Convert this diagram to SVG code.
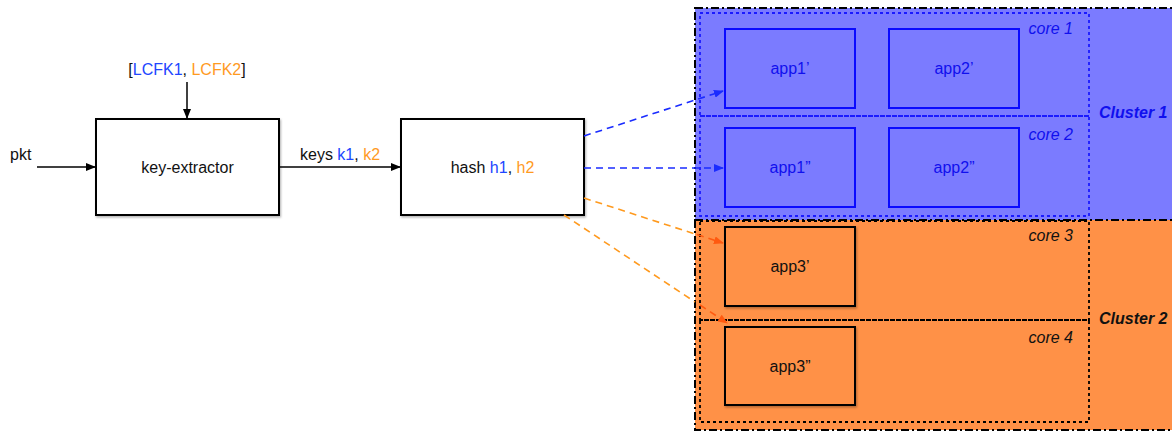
<svg xmlns="http://www.w3.org/2000/svg" width="1172" height="432" viewBox="0 0 1172 432">
<style>
text{font-family:"Liberation Sans",Arial,sans-serif;font-size:16px;}
.blk{fill:#111;}
.b{fill:#2146ff;}
.o{fill:#ff9a1f;}
.box{fill:#fff;stroke:#000;stroke-width:2;}
.edge{stroke:#000;stroke-width:1.5;fill:none;}
.bdash{stroke:#1a2cff;stroke-width:1.6;fill:none;stroke-dasharray:7 5;}
.odash{stroke:#ff9a1f;stroke-width:1.6;fill:none;stroke-dasharray:7 5;}
.odash2{stroke:#ff5a10;stroke-width:1.6;fill:none;stroke-dasharray:7 5;}
.cluster{stroke:#000;stroke-width:2;stroke-dasharray:8 3 2 3;}
.core1{fill:none;stroke:#1a1aff;stroke-width:1.8;stroke-dasharray:3 3;}
.core2{fill:none;stroke:#000;stroke-width:1.8;stroke-dasharray:3 3;}
.appb{fill:#7b7bff;stroke:#0a0aff;stroke-width:2;}
.appo{fill:#ff9147;stroke:#000;stroke-width:2;}
.corelbl{font-style:italic;text-anchor:end;}
.clbl{font-style:italic;font-weight:bold;}
.mid{text-anchor:middle;}
</style>
<defs>
<marker id="ak" markerWidth="10" markerHeight="8" refX="9" refY="4" orient="auto" markerUnits="userSpaceOnUse"><path d="M0,0 L10,4 L0,8 Z" fill="#000"/></marker>
<marker id="ab" markerWidth="10" markerHeight="8" refX="9" refY="4" orient="auto" markerUnits="userSpaceOnUse"><path d="M0,0 L10,4 L0,8 Z" fill="#1a2cff"/></marker>
<marker id="ao" markerWidth="10" markerHeight="8" refX="9" refY="4" orient="auto" markerUnits="userSpaceOnUse"><path d="M0,0 L10,4 L0,8 Z" fill="#ff5a10"/></marker>
<filter id="sh" x="-5%" y="-5%" width="115%" height="115%"><feDropShadow dx="1" dy="1.5" stdDeviation="1" flood-color="#000" flood-opacity="0.3"/></filter>
</defs>

<g id="cluster1">
<rect x="695" y="8" width="490" height="212" fill="#7b7bff" class="cluster"/>
<text x="1099" y="118" class="clbl" fill="#1010ee">Cluster 1</text>
</g>
<g id="cluster2">
<rect x="695" y="220" width="490" height="210" fill="#ff9147" class="cluster"/>
<text x="1099" y="324" class="clbl" fill="#111">Cluster 2</text>
</g>

<g id="core1">
<rect x="700" y="13" width="389" height="103" class="core1"/>
<text x="1073" y="34" class="corelbl" fill="#1010ee">core 1</text>
</g>
<g id="core2">
<rect x="700" y="116" width="389" height="100" class="core1"/>
<text x="1073" y="140" class="corelbl" fill="#1010ee">core 2</text>
</g>
<g id="core3">
<rect x="700" y="221" width="389" height="99" class="core2"/>
<text x="1073" y="241" class="corelbl" fill="#111">core 3</text>
</g>
<g id="core4">
<rect x="700" y="320" width="389" height="102" class="core2"/>
<text x="1073" y="343" class="corelbl" fill="#111">core 4</text>
</g>

<g id="app1p"><rect x="725" y="29" width="130" height="79" class="appb"/><text x="790" y="74" class="mid" fill="#1010ee">app1’</text></g>
<g id="app2p"><rect x="889" y="29" width="130" height="79" class="appb"/><text x="954" y="74" class="mid" fill="#1010ee">app2’</text></g>
<g id="app1pp"><rect x="725" y="128" width="130" height="79" class="appb"/><text x="790" y="173" class="mid" fill="#1010ee">app1”</text></g>
<g id="app2pp"><rect x="889" y="128" width="130" height="79" class="appb"/><text x="954" y="173" class="mid" fill="#1010ee">app2”</text></g>
<g id="app3p"><rect x="725" y="227" width="130" height="79" class="appo" filter="url(#sh)"/><text x="790" y="272" class="mid blk">app3’</text></g>
<g id="app3pp"><rect x="725" y="327" width="130" height="78" class="appo" filter="url(#sh)"/><text x="790" y="372" class="mid blk">app3”</text></g>

<g id="key-extractor">
<rect x="96" y="119" width="183" height="96" class="box" filter="url(#sh)"/>
<text x="187.5" y="173" class="mid blk">key-extractor</text>
</g>
<g id="hash">
<rect x="401" y="119" width="183" height="96" class="box" filter="url(#sh)"/>
<text x="492.5" y="173" class="mid"><tspan class="blk">hash </tspan><tspan class="b">h1</tspan><tspan class="blk">, </tspan><tspan class="o">h2</tspan></text>
</g>
<g id="pkt"><text x="10" y="160" class="blk">pkt</text></g>
<g id="lcfk"><text x="187" y="75" class="mid"><tspan class="blk">[</tspan><tspan class="b">LCFK1</tspan><tspan class="blk">, </tspan><tspan class="o">LCFK2</tspan><tspan class="blk">]</tspan></text></g>

<g id="connectors">
<line x1="37" y1="167" x2="95" y2="167" class="edge" marker-end="url(#ak)"/>
<line x1="187" y1="82" x2="187" y2="118" class="edge" marker-end="url(#ak)"/>
<line x1="280" y1="167" x2="400" y2="167" class="edge" marker-end="url(#ak)"/>
<text x="300" y="160"><tspan class="blk">keys </tspan><tspan class="b">k1</tspan><tspan class="blk">, </tspan><tspan class="o">k2</tspan></text>
<line x1="584" y1="136" x2="723" y2="91" class="bdash" marker-end="url(#ab)"/>
<line x1="584" y1="168" x2="723" y2="168" class="bdash" marker-end="url(#ab)"/>
<line x1="584" y1="198" x2="695" y2="234" class="odash"/>
<line x1="697" y1="234.6" x2="723" y2="243" class="odash2" marker-end="url(#ao)"/>
<line x1="564" y1="215" x2="695" y2="302" class="odash"/>
<line x1="700" y1="305" x2="727" y2="323" class="odash2" marker-end="url(#ao)"/>
</g>
</svg>
